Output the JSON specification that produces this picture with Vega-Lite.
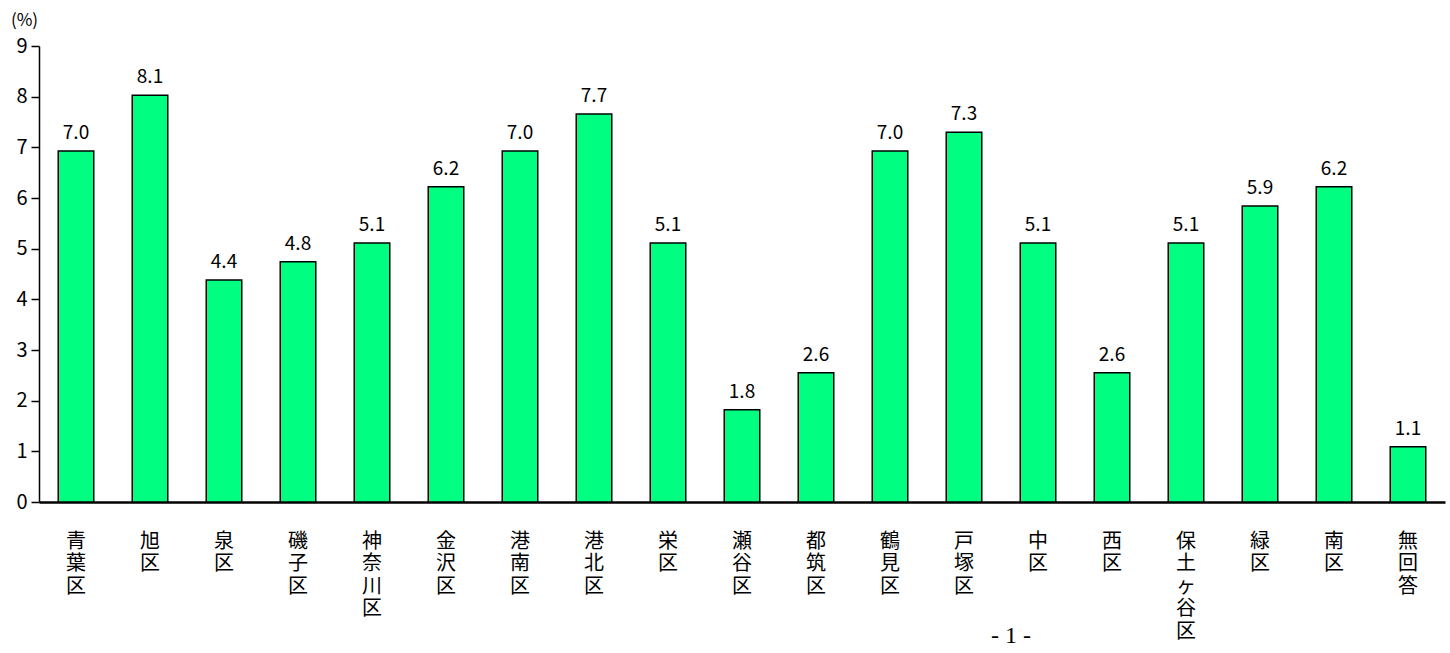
{
  "$schema": "https://vega.github.io/schema/vega-lite/v6.json",
  "autosize": {"type": "none"},
  "padding": {"left": 39, "top": 46, "right": 5, "bottom": 151},
  "width": 1406,
  "height": 456,
  "background": "white",
  "config": {"view": {"stroke": null}, "font": "Noto Sans CJK JP"},
  "title": {"text": "- 1 -", "orient": "bottom", "anchor": "start", "frame": "group", "dx": 952, "dy": -21, "font": "Liberation Serif", "fontSize": 24, "fontWeight": "normal", "color": "black"},
  "data": {"values": [
    {"ward": "青葉区", "pct": 6.93, "label": "7.0"},
    {"ward": "旭区", "pct": 8.03, "label": "8.1"},
    {"ward": "泉区", "pct": 4.38, "label": "4.4"},
    {"ward": "磯子区", "pct": 4.74, "label": "4.8"},
    {"ward": "神奈川区", "pct": 5.11, "label": "5.1"},
    {"ward": "金沢区", "pct": 6.22, "label": "6.2"},
    {"ward": "港南区", "pct": 6.93, "label": "7.0"},
    {"ward": "港北区", "pct": 7.66, "label": "7.7"},
    {"ward": "栄区", "pct": 5.11, "label": "5.1"},
    {"ward": "瀬谷区", "pct": 1.82, "label": "1.8"},
    {"ward": "都筑区", "pct": 2.55, "label": "2.6"},
    {"ward": "鶴見区", "pct": 6.93, "label": "7.0"},
    {"ward": "戸塚区", "pct": 7.3, "label": "7.3"},
    {"ward": "中区", "pct": 5.11, "label": "5.1"},
    {"ward": "西区", "pct": 2.55, "label": "2.6"},
    {"ward": "保土ヶ谷区", "pct": 5.11, "label": "5.1"},
    {"ward": "緑区", "pct": 5.84, "label": "5.9"},
    {"ward": "南区", "pct": 6.22, "label": "6.2"},
    {"ward": "無回答", "pct": 1.09, "label": "1.1"}
  ]},
  "encoding": {
    "x": {"field": "ward", "type": "nominal", "sort": null,
      "scale": {"paddingInner": 0.52, "paddingOuter": 0.26},
      "axis": {"title": null, "labelAngle": 0, "labelExpr": "split(datum.label, '')", "labelFontSize": 20, "labelLineHeight": 22.5, "labelPadding": 29, "labelColor": "black", "labelBaseline": "top", "ticks": false, "domainColor": "black", "domainWidth": 2.5, "labelFont": "Noto Sans CJK JP"}},
    "y": {"field": "pct", "type": "quantitative",
      "scale": {"domain": [0, 9], "nice": false},
      "axis": {"values": [0,1,2,3,4,5,6,7,8,9], "grid": false, "title": "(%)", "titleAngle": 0, "titleX": -15, "titleY": -26, "titleAlign": "center", "titleBaseline": "middle", "titleFontSize": 17, "titleFontWeight": "normal", "titleColor": "black", "labelFontSize": 20, "labelColor": "black", "labelPadding": 4, "tickSize": 8, "tickColor": "black", "tickWidth": 1.5, "domainColor": "black", "domainWidth": 1.5}}
  },
  "layer": [
    {"mark": {"type": "bar", "color": "#00FF80", "stroke": "black", "strokeWidth": 1.5}},
    {"mark": {"type": "text", "baseline": "bottom", "dy": -8, "fontSize": 19, "color": "black"}, "encoding": {"text": {"field": "label"}}}
  ]
}
